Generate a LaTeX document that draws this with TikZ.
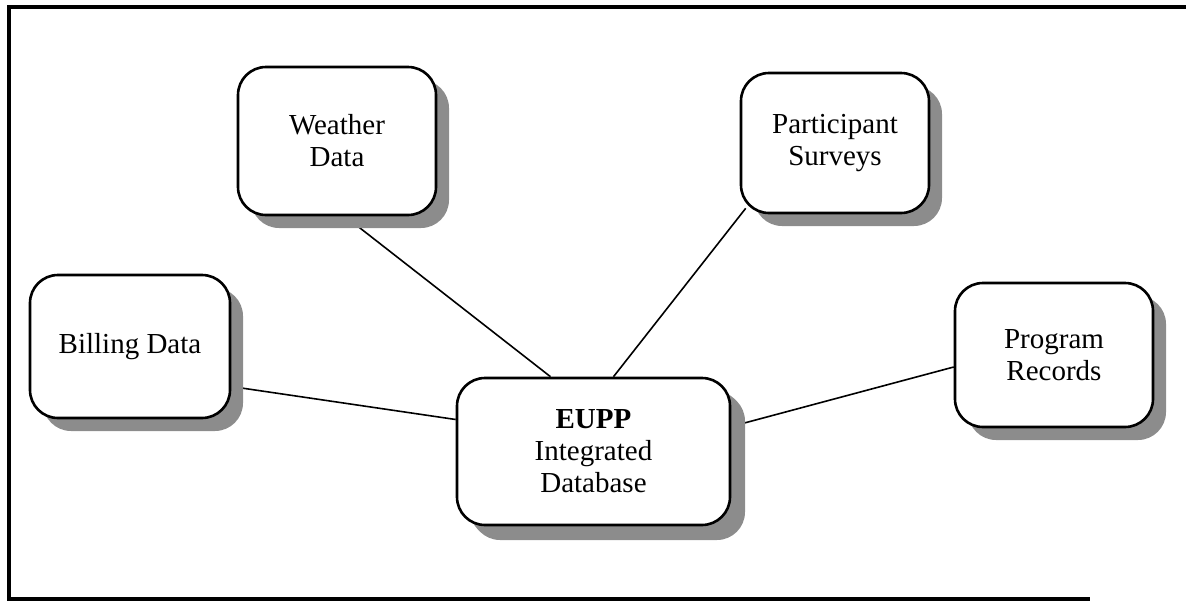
\documentclass[tikz,border=0pt]{standalone}
\usepackage{fontspec}
\setmainfont{Liberation Serif}
\usetikzlibrary{calc,shadows,backgrounds}
\begin{document}
\begin{tikzpicture}[x=1pt,y=-1pt,
  box/.style={draw=black, line width=2.6pt, rounded corners=28pt, fill=white,
    align=center, inner sep=0pt,
    font=\fontsize{29}{32}\selectfont,
    drop shadow={shadow xshift=13pt, shadow yshift=-13pt, fill=black!45, opacity=1}},
  link/.style={draw=black, line width=1.6pt},
  frame/.style={draw=black, line width=4pt}]
\useasboundingbox (0,0) rectangle (1186,603);
\draw[frame] (1186,7) -- (9,7) -- (9,599) -- (1090,599);
\node[box, minimum width=198pt, minimum height=148pt] (W) at (337,141) {Weather\\Data};
\node[box, minimum width=188pt, minimum height=140pt] (P) at (835,143) {Participant\\Surveys};
\node[box, minimum width=200pt, minimum height=143pt] (B) at (130,346.5) {Billing Data};
\node[box, minimum width=198pt, minimum height=144pt] (R) at (1054,355) {Program\\Records};
\node[box, minimum width=273pt, minimum height=147pt,
  drop shadow={shadow xshift=15pt, shadow yshift=-15pt, fill=black!45, opacity=1}] (E) at (593.5,451.5) {\textbf{EUPP}\\Integrated\\Database};
\begin{pgfonlayer}{background}
\draw[link] ($(W.south)+(8,0)$) -- ($(E.north)+(-43,0)$);
\draw[link] ($(P.south west)+(6,-6)$) -- ($(E.north)+(20,0)$);
\draw[link] ($(B.east)+(0,40)$) -- ($(E.west)+(0,-32)$);
\draw[link] ($(R.west)+(0,12)$) -- ($(E.east)+(0,-25)$);
\end{pgfonlayer}
\end{tikzpicture}
\end{document}
